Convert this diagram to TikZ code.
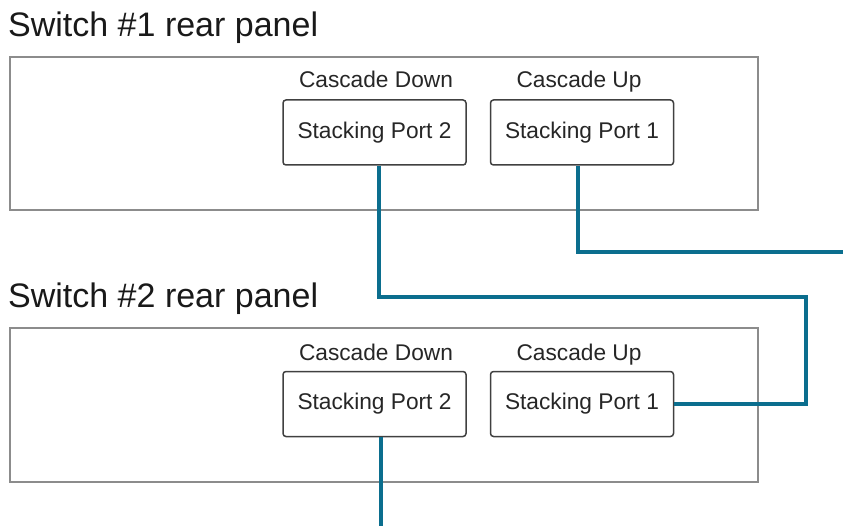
\documentclass[tikz,border=0pt]{standalone}
\usepackage{fontspec}
\setmainfont{Liberation Sans}
\begin{document}
\begin{tikzpicture}[x=1pt,y=-1pt,
  panel/.style={draw=black!45,line width=1.5pt},
  portbox/.style={draw=black!75,line width=1.5pt,rounded corners=3pt,minimum width=183pt,minimum height=65pt,inner sep=0pt,font=\fontsize{22.7}{26}\selectfont,text=black!85},
  caslabel/.style={font=\fontsize{22.7}{26}\selectfont,text=black!85,inner sep=0pt,anchor=base},
  title/.style={font=\fontsize{34}{40}\selectfont,text=black!90,inner sep=0pt,anchor=base west},
  cable/.style={draw=cablecol,line width=4pt}]
\definecolor{cablecol}{HTML}{0B6E8E}
\useasboundingbox (0,0) rectangle (843,526);
% Switch 1
\node[title] (t1) at (8,37) {Switch \#1 rear panel};
\draw[panel] (10,57) rectangle (758,210);
\node[portbox] (p12) at (374.5,132.5) {Stacking Port 2};
\node[portbox] (p11) at (582,132.5) {Stacking Port 1};
\node[caslabel] (l12) at (376,88) {Cascade Down};
\node[caslabel] (l11) at (579,88) {Cascade Up};
% Switch 2
\node[title] (t2) at (8,308) {Switch \#2 rear panel};
\draw[panel] (10,328) rectangle (758,482);
\node[portbox] (p22) at (374.5,404) {Stacking Port 2};
\node[portbox] (p21) at (582,404) {Stacking Port 1};
\node[caslabel] (l22) at (376,360) {Cascade Down};
\node[caslabel] (l21) at (579,360) {Cascade Up};
% cables
\coordinate (e1) at (843,252);
\coordinate (c1) at (806,297);
\coordinate (e3) at (380.5,526);
\draw[cable] ([xshift=-4pt]p11.south) |- (e1);
\draw[cable] ([xshift=4pt]p12.south) |- (c1) |- (p21.east);
\draw[cable] ([xshift=6pt]p22.south) -- (e3);
\end{tikzpicture}
\end{document}
